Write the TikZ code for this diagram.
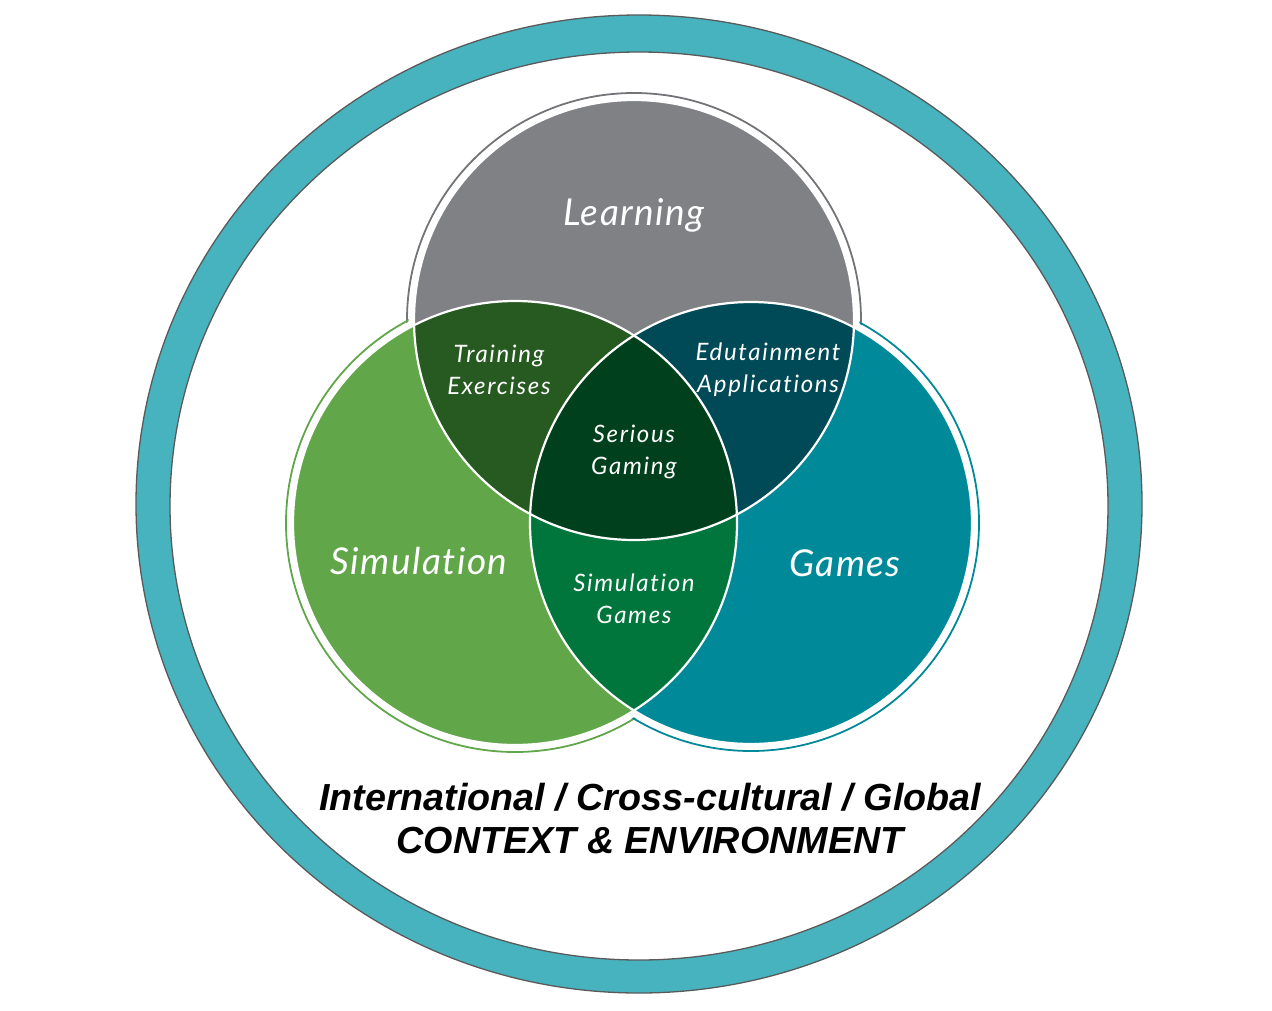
\documentclass[tikz,border=0pt]{standalone}
\usepackage{fontspec}
\setmainfont{Liberation Sans}
\newfontfamily\lblbig[LetterSpace=4,Ligatures=NoCommon]{Lato}
\newfontfamily\lblsmall[LetterSpace=7,Ligatures=NoCommon]{Lato}
\usetikzlibrary{calc}
\definecolor{ringc}{HTML}{47B3BF}
\definecolor{ringline}{HTML}{5A5A5A}
\definecolor{learnc}{HTML}{808184}
\definecolor{simc}{HTML}{62A64A}
\definecolor{gamec}{HTML}{008A99}
\definecolor{trainc}{HTML}{275A21}
\definecolor{edutc}{HTML}{004A57}
\definecolor{seriousc}{HTML}{00401C}
\definecolor{simgamec}{HTML}{00763C}
\tikzset{
  biglabel/.style={text=white, font=\lblbig\itshape\fontsize{37}{40}\selectfont, inner sep=0pt},
  smalllabel/.style={text=white, font=\lblsmall\itshape\fontsize{24}{32}\selectfont, align=center, inner sep=0pt},
  ctxlabel/.style={text=black, font=\bfseries\itshape\fontsize{37.7}{43}\selectfont, align=center, inner sep=0pt},
  outline/.style={line width=1.8pt},
  sep/.style={draw=white, line width=2.2pt}
}
\begin{document}
\begin{tikzpicture}[x=1pt,y=-1pt]
\useasboundingbox[fill=white] (0,0) rectangle (1272,1010);
% outer ring
\filldraw[fill=ringc, draw=ringline, line width=1.3pt, even odd rule]
  (639,504) ellipse [x radius=503, y radius=489]
  (639,506) ellipse [x radius=469, y radius=454];
% circle centres
\coordinate (cL) at (634,320);
\coordinate (cS) at (515,523);
\coordinate (cG) at (751,523);
\def\rL{220}\def\rS{222}\def\rG{221}
% thin outer outlines
\draw[outline, learnc!90!black] (cL) circle [radius=\rL+7];
\draw[outline, simc] (cS) circle [radius=\rS+7];
\draw[outline, gamec] (cG) circle [radius=\rG+7];
% white pads
\fill[white] (cL) circle [radius=\rL+5.5];
\fill[white] (cS) circle [radius=\rS+5.5];
\fill[white] (cG) circle [radius=\rG+5.5];
% fills
\fill[learnc] (cL) circle [radius=\rL];
\fill[simc] (cS) circle [radius=\rS];
\fill[gamec] (cG) circle [radius=\rG];
\begin{scope}
  \clip (cL) circle [radius=\rL];
  \fill[trainc] (cS) circle [radius=\rS];
  \fill[edutc] (cG) circle [radius=\rG];
\end{scope}
\begin{scope}
  \clip (cS) circle [radius=\rS];
  \fill[simgamec] (cG) circle [radius=\rG];
  \clip (cL) circle [radius=\rL];
  \fill[seriousc] (cG) circle [radius=\rG];
\end{scope}
% white separators
\draw[sep] (cL) circle [radius=\rL];
\draw[sep] (cS) circle [radius=\rS];
\draw[sep] (cG) circle [radius=\rG];
% labels
\node[biglabel] (learning) at (634,215) {Learning};
\node[biglabel] (simulation) at (419,561) {Simulation};
\node[biglabel] (games) at (845,563) {Games};
\node[smalllabel] (training) at (499,370) {Training\\Exercises};
\node[smalllabel] (edut) at (768,370) {Edutainment\\Applications};
\node[smalllabel] (serious) at (634,452) {Serious\\Gaming};
\node[smalllabel] (simgames) at (634,599) {Simulation\\Games};
\node[ctxlabel] (context) at (650,819) {International / Cross-cultural / Global\\CONTEXT \& ENVIRONMENT};
\end{tikzpicture}
\end{document}
